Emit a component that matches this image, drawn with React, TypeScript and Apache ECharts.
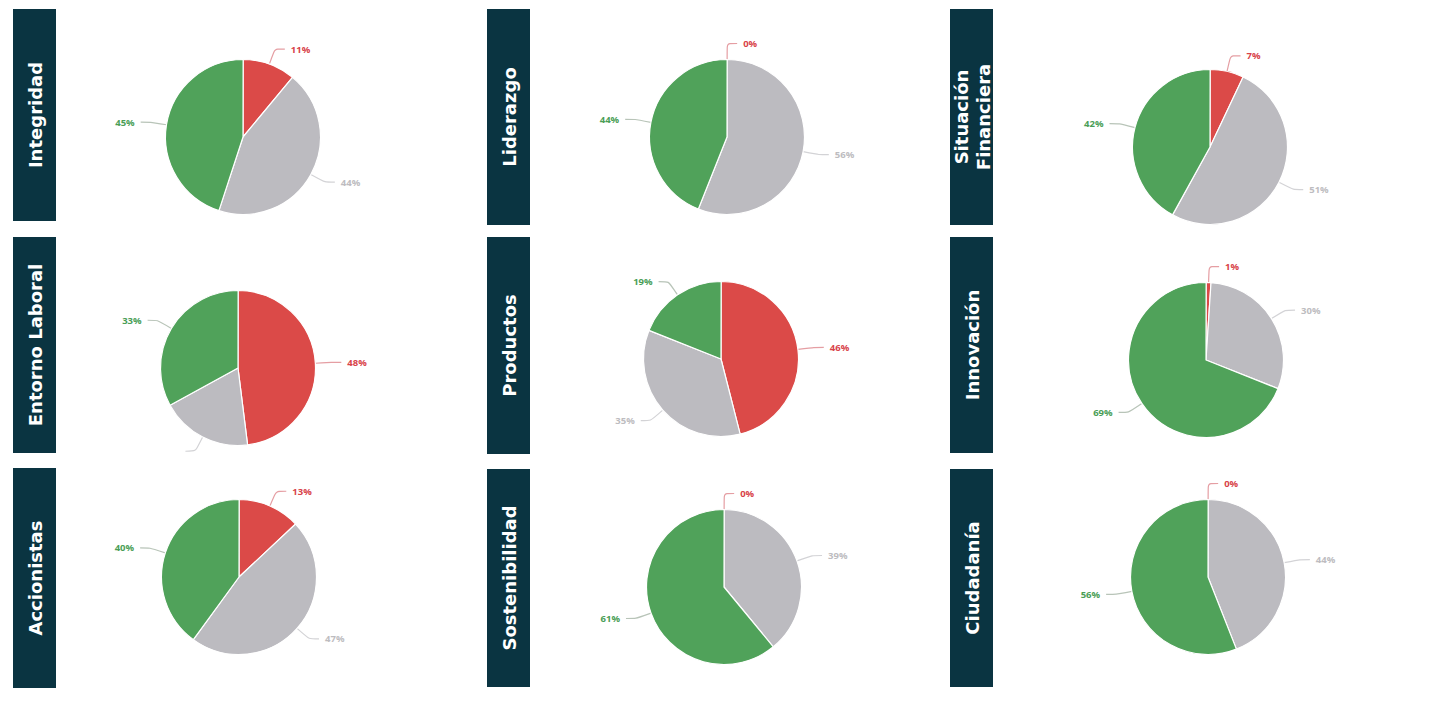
import React, { useEffect, useRef } from "react";
import * as echarts from "echarts";

const panelTitles = [
  "Integridad",
  "Liderazgo",
  "Situación\nFinanciera",
  "Entorno Laboral",
  "Productos",
  "Innovación",
  "Accionistas",
  "Sostenibilidad",
  "Ciudadanía",
];
const categories = ["Negativo", "Neutral", "Positivo"];
const negativo = [11, 0, 7, 48, 46, 1, 13, 0, 0];
const neutral = [44, 56, 51, 19, 35, 30, 47, 39, 44];
const positivo = [45, 44, 42, 33, 19, 69, 40, 61, 56];
// labels cut off by the picture edge in the original
const hiddenLabels: Record<number, number[]> = { 3: [1] };

const COLORS = ["#db4a48", "#bcbbc0", "#50a25a"];
const LABEL_COLORS = ["#d8434a", "#bdbcc0", "#4a9e57"];
const LINE_COLORS = ["#e59ea3", "#d3d3d6", "#b8c4b8"];
const BOX = "#0a3441";

const centers = [
  [243, 137],
  [727, 137],
  [1210, 147],
  [238, 368],
  [721, 359],
  [1206, 360],
  [239, 577],
  [724, 587],
  [1208, 577],
];
const boxes = [
  [13, 9, 43, 212],
  [487, 9, 43, 216],
  [950, 9, 43, 216],
  [13, 237, 43, 216],
  [487, 237, 43, 217],
  [950, 237, 43, 216],
  [13, 468, 43, 220],
  [487, 469, 43, 218],
  [950, 469, 43, 218],
];

export default function App() {
  const ref = useRef<HTMLDivElement>(null);
  useEffect(() => {
    document.body.style.margin = "0";
    const chart = echarts.init(ref.current!, null, { renderer: "svg" });
    const series = panelTitles.map((_, i) => {
      const vals = [negativo[i], neutral[i], positivo[i]];
      return {
        type: "pie",
        radius: 77.5,
        center: centers[i],
        startAngle: 89.9,
        clockwise: true,
        avoidLabelOverlap: false,
        itemStyle: { borderColor: "#ffffff", borderWidth: 1.2 },
        label: {
          fontFamily: "Open Sans",
          fontSize: 9.5,
          fontWeight: 700,
          distanceToLabelLine: 6,
        },
        labelLine: { length: 16, length2: 10, smooth: 0.2, lineStyle: { width: 1.2 } },
        emphasis: { disabled: true },
        data: vals.map((v, k) => {
          const hidden = (hiddenLabels[i] || []).includes(k);
          return {
            name: categories[k],
            value: v,
            itemStyle: { color: COLORS[k] },
            label: {
              color: LABEL_COLORS[k],
              formatter: hidden ? "" : `${v}%`,
            },
            labelLine: { lineStyle: { color: LINE_COLORS[k] } },
          };
        }),
      };
    });
    const graphic: any[] = [];
    boxes.forEach((b, i) => {
      graphic.push({
        type: "rect",
        shape: { x: b[0], y: b[1], width: b[2], height: b[3] },
        style: { fill: BOX },
        z: 10,
      });
      graphic.push({
        type: "text",
        x: b[0] + b[2] / 2 + 1,
        y: b[1] + b[3] / 2,
        rotation: Math.PI / 2,
        z: 11,
        style: {
          text: panelTitles[i],
          fill: "#ffffff",
          font: "bold 18px 'DejaVu Sans'",
          textAlign: "center",
          textVerticalAlign: "middle",
          lineHeight: 22,
        },
      });
    });
    chart.setOption({
      animation: false,
      backgroundColor: "#ffffff",
      series,
      graphic,
    });
    return () => chart.dispose();
  }, []);
  return <div ref={ref} style={{ width: 1436, height: 702 }} />;
}
